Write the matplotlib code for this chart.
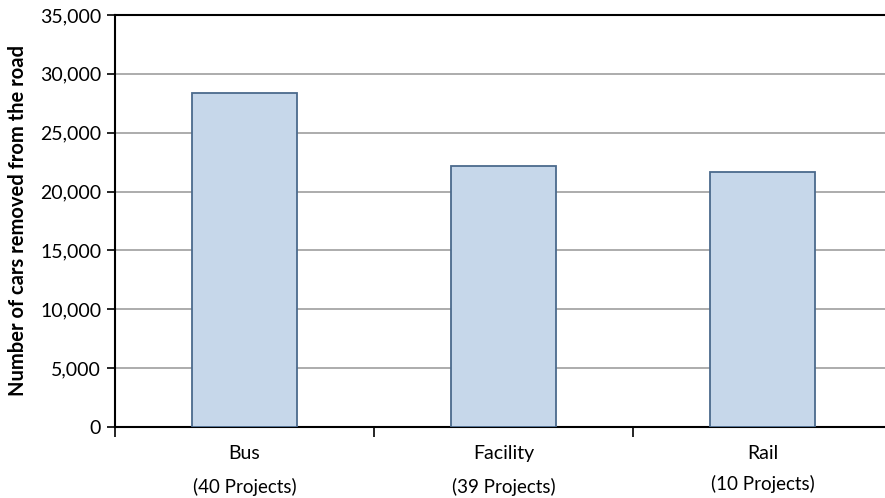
import numpy as np
import matplotlib.pyplot as plt
from matplotlib.ticker import FuncFormatter
import matplotlib.transforms as mtransforms

categories = ["Bus", "Facility", "Rail"]
project_labels = ["(40 Projects)", "(39 Projects)", "(10 Projects)"]
cars_removed = [28400, 22200, 21700]
y_ticks = [0, 5000, 10000, 15000, 20000, 25000, 30000, 35000]

plt.rcParams['font.family'] = ['Lato', 'DejaVu Sans']

fig = plt.figure(figsize=(8.85, 4.98), dpi=100)
ax = fig.add_axes([115 / 885, 1 - 427 / 498, 777 / 885, 412 / 498])

x = np.arange(len(categories))
ax.bar(x, cars_removed, width=0.405, color="#c6d7ea", edgecolor="#4b6a8c",
       linewidth=1.3, zorder=3)

ax.set_xlim(-0.5, len(categories) - 0.5)
ax.set_ylim(0, 35000)
ax.set_yticks(y_ticks)
ax.yaxis.set_major_formatter(FuncFormatter(lambda v, p: f"{int(v):,}"))
ax.tick_params(axis="y", labelsize=14, length=6, width=1.2, direction="out", pad=4)
ax.grid(axis="y", color="#a6a6a6", linewidth=1.3, zorder=0)

# category boundary ticks on the x axis, labels placed by hand below
ax.set_xticks(np.arange(-0.5, len(categories), 1.0))
ax.set_xticklabels([])
ax.tick_params(axis="x", length=7, width=1.2, direction="out")

trans = mtransforms.blended_transform_factory(ax.transData, fig.transFigure)
for i, (cat, proj) in enumerate(zip(categories, project_labels)):
    ax.text(i, 1 - 453 / 498, cat, transform=trans, ha="center", va="center",
            fontsize=14)
    yoff = 484 if i == 2 else 487
    ax.text(i, 1 - yoff / 498, proj, transform=trans, ha="center", va="center",
            fontsize=13.5)

for side in ["left", "bottom", "top"]:
    ax.spines[side].set_color("black")
    ax.spines[side].set_linewidth(1.5)
ax.spines["right"].set_visible(False)

fig.text(18 / 885, 1 - 220 / 498, "Number of cars removed from the road",
         rotation=90, ha="center", va="center", fontsize=14.5, fontweight="bold")

fig.savefig("out.png", dpi=100)
